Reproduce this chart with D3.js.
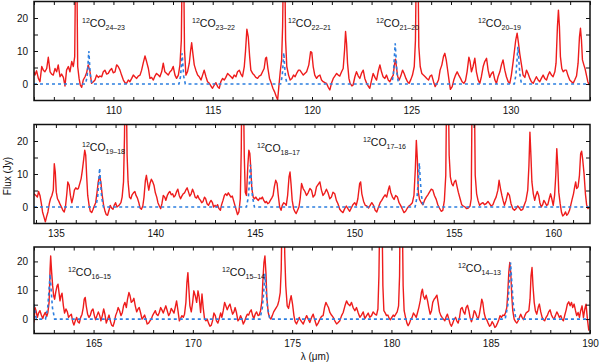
<!DOCTYPE html>
<html>
<head>
<meta charset="utf-8">
<script src="https://cdn.jsdelivr.net/npm/d3@7"></script>
<style>
  body { margin: 0; background: #fff; }
  text { font-family: "Liberation Sans", Arial, sans-serif; fill: #111; }
</style>
</head>
<body>
<script>
let width = 600;
let height = 362;

// observed spectrum, [lambda (um), flux (Jy)]; values above the frame are line peaks that run off the top
const spec1 = [[106.00,3.7],[106.05,2.7],[106.13,4.0],[106.22,1.7],[106.30,0.7],[106.39,5.3],[106.47,4.2],[106.55,3.7],[106.64,4.7],[106.72,8.1],[106.81,3.7],[106.89,3.0],[106.97,2.7],[107.06,4.7],[107.14,3.7],[107.22,5.8],[107.31,2.2],[107.39,3.0],[107.48,2.0],[107.56,-0.6],[107.64,4.2],[107.73,5.3],[107.81,3.7],[107.90,6.8],[107.98,5.3],[108.05,8.3],[108.10,40],[108.15,40],[108.20,5.3],[108.27,1.7],[108.33,-0.3],[108.40,-1.0],[108.48,1.2],[108.57,2.2],[108.65,3.4],[108.73,5.8],[108.82,3.7],[108.90,0.2],[108.99,0.7],[109.07,1.2],[109.15,2.7],[109.24,2.0],[109.32,2.4],[109.41,2.2],[109.49,3.7],[109.57,4.2],[109.66,3.0],[109.74,3.2],[109.83,4.2],[109.91,4.7],[109.99,3.4],[110.08,3.7],[110.16,5.8],[110.24,5.3],[110.33,4.2],[110.41,2.7],[110.50,1.2],[110.58,0.4],[110.66,0.2],[110.75,1.2],[110.83,0.7],[110.92,1.7],[111.00,2.7],[111.08,2.2],[111.17,1.7],[111.25,2.4],[111.34,2.7],[111.42,4.2],[111.50,6.3],[111.59,8.5],[111.67,6.8],[111.76,4.7],[111.84,1.7],[111.92,2.0],[112.01,1.2],[112.09,2.4],[112.17,3.2],[112.26,2.7],[112.34,2.2],[112.43,3.7],[112.51,6.3],[112.59,3.7],[112.68,3.2],[112.76,2.7],[112.85,3.7],[112.93,4.2],[113.01,5.3],[113.10,2.7],[113.18,1.7],[113.27,2.7],[113.35,5.8],[113.42,13.3],[113.47,40],[113.53,40],[113.58,10.3],[113.65,2.7],[113.73,3.7],[113.82,6.3],[113.89,10.3],[113.94,12.5],[114.00,9.3],[114.07,5.8],[114.15,4.2],[114.24,2.7],[114.32,2.2],[114.41,1.2],[114.49,2.7],[114.57,4.2],[114.66,2.2],[114.74,0.7],[114.83,0.2],[114.91,-0.6],[114.99,-1.3],[115.08,-0.3],[115.16,0.4],[115.25,-0.8],[115.33,-1.3],[115.41,0.7],[115.50,1.7],[115.58,1.2],[115.66,2.0],[115.75,3.2],[115.83,2.7],[115.92,2.2],[116.00,1.7],[116.08,2.7],[116.17,2.2],[116.25,3.7],[116.34,4.2],[116.42,3.0],[116.50,2.2],[116.59,5.3],[116.65,9.8],[116.72,16.6],[116.79,14.3],[116.86,8.3],[116.92,4.2],[117.01,3.2],[117.09,2.7],[117.17,2.0],[117.26,1.7],[117.34,2.4],[117.43,2.7],[117.51,3.7],[117.59,4.7],[117.66,7.8],[117.71,8.1],[117.78,4.7],[117.86,1.7],[117.95,0.2],[118.03,-1.3],[118.11,-2.3],[118.20,-3.8],[118.27,-4.8],[118.33,-0.8],[118.40,3.7],[118.47,7.3],[118.52,17.4],[118.57,40],[118.62,40],[118.67,13.3],[118.73,5.3],[118.82,2.7],[118.90,1.2],[118.99,1.7],[119.07,2.7],[119.15,2.2],[119.24,3.4],[119.32,4.2],
  [119.39,4.2],[119.56,2.7],[119.73,3.7],[119.84,5.8],[119.93,9.8],[119.99,9.5],[120.06,5.3],[120.14,2.7],[120.23,1.7],[120.31,2.4],[120.40,2.7],[120.48,1.2],[120.56,0.7],[120.65,0.4],[120.73,0.2],[120.82,-1.0],[120.90,-1.8],[120.98,0.2],[121.07,1.7],[121.15,2.4],[121.24,3.2],[121.32,2.7],[121.40,2.4],[121.49,3.7],[121.57,4.7],[121.64,10.3],[121.69,15.9],[121.74,12.3],[121.79,6.3],[121.86,1.7],[121.92,0.2],[122.01,-0.6],[122.07,-0.3],[122.16,2.2],[122.24,3.7],[122.33,2.4],[122.41,1.7],[122.49,3.2],[122.58,4.2],[122.66,1.7],[122.75,0.2],[122.83,-0.6],[122.91,-1.3],[123.00,1.2],[123.08,3.2],[123.17,2.0],[123.25,1.2],[123.33,3.7],[123.42,5.8],[123.50,3.7],[123.58,2.2],[123.67,1.7],[123.75,2.7],[123.84,1.2],[123.92,0.7],[124.00,1.7],[124.09,2.7],[124.15,5.8],[124.21,7.5],[124.26,4.7],[124.32,2.2],[124.39,1.2],[124.47,2.4],[124.56,4.2],[124.64,3.2],[124.73,1.7],[124.81,0.7],[124.89,0.2],[124.98,1.4],[125.06,2.7],[125.15,5.3],[125.21,13.3],[125.26,40],[125.33,40],[125.38,11.3],[125.45,5.3],[125.53,3.2],[125.61,2.7],[125.70,2.2],[125.78,1.7],[125.87,1.2],[125.95,2.4],[126.03,2.7],[126.12,0.7],[126.20,-0.8],[126.29,0.2],[126.37,1.2],[126.45,4.2],[126.54,5.8],[126.62,8.3],[126.69,9.3],[126.76,7.3],[126.82,4.7],[126.91,0.7],[126.97,-1.6],[127.06,-0.8],[127.14,1.2],[127.23,2.7],[127.31,3.7],[127.39,2.7],[127.48,1.7],[127.56,0.7],[127.65,0.2],[127.73,1.0],[127.81,3.7],[127.90,8.1],[127.96,6.8],[128.03,3.7],[128.11,5.3],[128.20,7.8],[128.28,3.7],[128.37,1.2],[128.45,0.2],[128.53,2.2],[128.62,5.3],[128.70,6.8],[128.79,7.8],[128.87,4.2],[128.95,2.0],[129.04,3.2],[129.12,3.7],[129.21,1.2],[129.29,0.2],[129.37,2.2],[129.46,3.7],[129.54,5.8],[129.62,7.3],[129.71,4.2],[129.79,2.2],[129.88,0.7],[129.96,0.2],[130.04,2.7],[130.13,6.8],[130.20,10.3],[130.26,13.3],[130.33,15.4],[130.40,12.3],[130.46,9.3],[130.55,5.8],[130.63,2.7],[130.72,2.0],[130.80,4.2],[130.88,3.2],[130.97,1.7],[131.05,0.7],[131.14,0.2],[131.22,1.2],[131.30,2.2],[131.39,1.2],[131.47,0.7],[131.55,1.7],[131.64,2.7],[131.72,1.7],[131.81,1.2],[131.89,2.7],[131.97,3.7],[132.06,2.7],[132.14,2.2],[132.23,3.7],[132.29,6.3],[132.36,17.4],[132.41,22.4],[132.46,17.4],[132.51,8.3],[132.58,4.7],[132.65,3.7],[132.73,4.2],[132.81,4.2],[132.90,2.4],[132.98,1.2],[133.07,0.7],[133.15,0.2],[133.23,1.2],[133.32,2.4],[133.40,6.3],[133.47,14.3],[133.52,16.9],[133.57,13.3],[133.62,7.3],[133.69,5.8],[133.75,4.7],[133.82,2.7],[133.89,0.7],[133.96,-0.3]];

const spec2 = [[133.90,4.0],[134.00,3.5],[134.07,3.0],[134.13,4.7],[134.20,3.5],[134.27,1.0],[134.33,-1.5],[134.40,-3.0],[134.47,-4.5],[134.53,-3.0],[134.60,-1.5],[134.67,1.0],[134.73,2.5],[134.80,3.5],[134.87,5.1],[134.92,13.1],[134.97,10.6],[135.02,4.5],[135.08,2.5],[135.15,1.7],[135.22,0.7],[135.28,0.0],[135.35,-1.0],[135.42,-1.5],[135.48,0.0],[135.55,4.0],[135.60,7.6],[135.67,6.6],[135.73,3.5],[135.80,1.3],[135.87,3.0],[135.93,5.1],[136.00,5.8],[136.07,5.4],[136.13,5.6],[136.20,7.1],[136.27,8.6],[136.33,11.1],[136.40,14.6],[136.45,17.2],[136.50,15.7],[136.55,9.1],[136.60,3.5],[136.67,0.5],[136.73,-1.3],[136.80,-1.7],[136.87,-0.7],[136.93,0.3],[137.00,1.3],[137.07,4.5],[137.13,7.6],[137.20,9.6],[137.27,7.1],[137.33,3.5],[137.40,0.5],[137.47,-1.3],[137.53,-2.3],[137.60,-2.5],[137.67,-1.0],[137.73,0.5],[137.80,-0.3],[137.87,-0.7],[137.93,0.5],[138.00,1.3],[138.07,0.0],[138.13,0.3],[138.20,0.7],[138.27,1.3],[138.33,3.0],[138.40,7.6],[138.45,21.7],[138.48,40],[138.53,40],[138.58,15.7],[138.63,7.6],[138.70,3.0],[138.77,2.5],[138.83,3.7],[138.90,4.3],[138.97,4.7],[139.03,3.5],[139.10,2.7],[139.17,1.3],[139.23,-0.3],[139.30,-0.7],[139.37,0.3],[139.43,3.0],[139.50,8.1],[139.55,9.6],[139.60,7.6],[139.67,5.1],[139.73,7.1],[139.80,8.4],[139.87,7.6],[139.93,6.6],[140.00,4.3],[140.07,3.0],[140.13,1.3],[140.20,0.3],[140.27,-0.5],[140.33,1.0],[140.40,3.5],[140.47,3.0],[140.53,2.0],[140.60,3.5],[140.67,4.3],[140.73,4.7],[140.80,3.7],[140.87,4.0],[140.93,3.0],[141.00,3.5],[141.07,4.7],[141.13,5.4],[141.20,3.5],[141.27,2.5],[141.33,3.3],[141.40,4.0],[141.47,4.3],[141.53,5.1],[141.60,5.8],[141.67,4.5],[141.73,3.3],[141.80,4.0],[141.87,5.4],[141.93,4.5],[142.00,3.0],[142.07,2.7],[142.13,3.5],[142.20,2.5],[142.27,2.0],[142.33,1.3],[142.40,1.7],[142.47,3.0],[142.53,2.5],[142.60,1.0],[142.67,0.5],[142.73,1.3],[142.80,2.0],[142.87,1.3],[142.93,0.0],[143.00,0.5],[143.07,0.0],[143.13,0.7],[143.20,-0.5],[143.27,-1.0],[143.33,0.7],[143.40,2.0],[143.47,3.5],[143.53,4.0],[143.60,3.5],[143.67,4.3],[143.73,3.7],[143.80,3.0],[143.87,3.3],[143.93,2.0],[144.00,0.5],[144.07,-1.0],[144.13,-2.3],[144.20,-1.5],[144.27,2.5],[144.32,17.7],[144.35,40],[144.42,40],[144.47,15.7],[144.52,4.5],[144.58,3.5],[144.65,12.6],[144.70,17.2],[144.75,16.2],[144.80,11.6],[144.85,5.6],[144.92,3.0],[144.98,2.5],[145.05,3.0],[145.12,2.3],[145.18,2.0],[145.25,2.7],[145.32,2.5],[145.38,3.0],[145.45,2.0],[145.52,1.3],[145.58,1.7],[145.65,1.0],[145.72,1.3],[145.78,2.0],[145.85,2.7],[145.92,3.5],[145.98,6.1],[146.05,8.1],[146.12,7.1],[146.18,3.5],[146.25,0.0],[146.32,-1.0],[146.38,0.5],[146.45,1.3],[146.52,1.0],[146.58,0.5],[146.65,3.5],[146.72,9.1],[146.77,10.6],[146.82,7.1],[146.88,2.0],[146.95,-0.5],[147.02,-1.5],[147.08,-2.0],[147.15,-1.0],[147.22,0.0],[147.28,2.5],
  [147.35,7.1],[147.43,5.6],[147.52,4.7],[147.60,3.5],[147.68,4.3],[147.77,5.6],[147.85,5.1],[147.93,3.0],[148.02,3.7],[148.10,6.1],[148.18,6.8],[148.27,7.6],[148.35,5.1],[148.43,3.5],[148.52,4.3],[148.60,5.4],[148.68,4.3],[148.77,2.5],[148.85,3.0],[148.93,4.5],[149.02,4.0],[149.10,2.0],[149.18,1.0],[149.27,-0.7],[149.35,-1.3],[149.43,-1.7],[149.52,-0.5],[149.60,0.3],[149.68,-0.5],[149.77,-1.3],[149.85,-0.3],[149.93,0.7],[150.02,1.3],[150.10,0.5],[150.18,2.5],[150.27,7.1],[150.32,7.6],[150.38,4.0],[150.47,1.7],[150.55,0.5],[150.63,0.3],[150.72,-0.3],[150.80,0.5],[150.88,1.3],[150.97,0.5],[151.05,-1.0],[151.13,-1.5],[151.22,0.0],[151.30,1.3],[151.38,2.0],[151.47,3.0],[151.55,3.7],[151.63,3.0],[151.72,5.4],[151.77,6.4],[151.83,4.5],[151.92,3.0],[152.00,2.3],[152.08,3.5],[152.17,3.0],[152.25,1.3],[152.33,0.5],[152.42,-0.7],[152.50,-1.7],[152.58,-1.3],[152.67,-0.3],[152.75,0.3],[152.83,0.7],[152.92,1.3],[153.00,3.5],[153.07,11.6],[153.12,20.2],[153.17,14.6],[153.22,4.5],[153.28,2.3],[153.37,1.3],[153.45,0.7],[153.53,2.0],[153.62,3.0],[153.70,3.7],[153.78,4.5],[153.87,5.4],[153.95,5.1],[154.03,3.5],[154.12,2.3],[154.20,0.7],[154.28,-0.3],[154.37,-1.3],[154.45,-1.0],[154.53,2.0],[154.60,9.6],[154.65,40],[154.72,40],[154.77,15.7],[154.83,9.1],[154.90,7.1],[154.97,6.4],[155.03,7.6],[155.10,8.1],[155.17,6.1],[155.23,4.5],[155.32,2.5],[155.40,0.7],[155.48,0.3],[155.57,0.0],[155.65,-0.5],[155.73,-0.3],[155.82,0.3],[155.88,2.5],[155.93,40],[156.03,40],[156.08,9.6],[156.15,4.0],[156.22,2.0],[156.30,0.5],[156.38,1.0],[156.47,1.3],[156.55,0.7],[156.63,1.0],[156.72,1.7],[156.80,1.0],[156.88,0.3],[156.97,0.7],[157.05,2.0],[157.13,3.0],[157.22,5.1],[157.28,8.1],[157.35,5.6],[157.42,3.5],[157.48,2.0],[157.55,0.5],[157.63,2.0],[157.72,4.3],[157.80,3.5],[157.88,1.0],[157.97,-0.5],[158.05,-1.0],[158.13,-0.5],[158.22,0.3],[158.30,-0.3],[158.38,-1.0],[158.47,-0.7],[158.55,0.7],[158.63,2.0],[158.72,5.1],[158.78,12.6],[158.83,22.7],[158.88,15.7],[158.93,7.6],[159.00,4.0],[159.07,2.0],[159.13,3.5],[159.20,4.7],[159.27,3.5],[159.33,1.3],[159.40,0.0],[159.47,0.7],[159.53,2.0],[159.60,1.3],[159.67,0.5],[159.73,0.7],[159.80,2.5],[159.87,4.0],[159.93,2.5],[160.00,0.5],[160.07,3.5],[160.13,9.6],[160.18,17.7],[160.23,12.6],[160.28,4.5],[160.35,1.0],[160.42,-1.7],[160.48,-2.7],[160.55,-2.3],[160.62,-1.5],[160.68,-2.5],[160.75,-2.0],[160.82,-1.0],[160.88,0.5],[160.95,2.3],[161.02,4.0],[161.08,6.1],[161.13,7.6],[161.18,5.6],[161.25,6.1],[161.32,9.6],[161.38,16.2],[161.43,16.9],[161.48,14.6],[161.55,10.1],[161.62,4.0],[161.68,0.7],[161.75,-0.5],[161.82,0.0]];

const spec3 = [[162.00,-1.2],[162.05,4.0],[162.10,2.9],[162.17,0.6],[162.23,2.1],[162.30,2.9],[162.37,1.4],[162.44,0.2],[162.50,1.4],[162.57,2.3],[162.64,0.9],[162.70,2.3],[162.76,5.8],[162.81,17.3],[162.84,21.9],[162.89,16.1],[162.94,11.5],[162.99,8.1],[163.04,6.9],[163.09,9.2],[163.16,11.5],[163.21,12.1],[163.26,9.2],[163.31,6.3],[163.36,8.1],[163.41,9.0],[163.48,4.6],[163.54,2.1],[163.61,3.5],[163.68,2.5],[163.74,0.6],[163.81,1.2],[163.88,1.7],[163.95,-0.9],[164.01,-2.1],[164.08,-0.6],[164.15,0.6],[164.21,-0.9],[164.28,-1.4],[164.35,0.6],[164.42,1.7],[164.48,4.0],[164.53,6.9],[164.58,7.5],[164.63,4.6],[164.70,1.7],[164.77,0.6],[164.84,1.4],[164.90,2.9],[164.97,3.5],[165.04,1.2],[165.10,-0.2],[165.17,1.2],[165.24,2.5],[165.31,1.2],[165.37,-0.6],[165.44,1.2],[165.51,3.5],[165.57,1.7],[165.64,-1.4],[165.71,0.0],[165.78,1.4],[165.84,-0.6],[165.91,-2.1],[165.98,-2.5],[166.04,-1.2],[166.11,1.2],[166.18,2.5],[166.24,4.0],[166.31,2.9],[166.38,1.2],[166.45,2.3],[166.51,4.6],[166.58,5.8],[166.65,4.0],[166.71,6.9],[166.78,9.2],[166.83,8.3],[166.90,5.8],[166.97,6.3],[167.03,7.2],[167.10,4.6],[167.17,2.5],[167.24,3.5],[167.30,4.0],[167.37,2.1],[167.44,0.0],[167.50,0.6],[167.57,1.4],[167.64,-0.2],[167.70,-1.7],[167.77,-1.4],[167.84,-0.6],[167.91,0.0],[167.97,1.2],[168.04,2.1],[168.11,2.9],[168.17,1.7],[168.24,1.2],[168.31,2.3],[168.38,4.0],[168.44,3.2],[168.51,2.1],[168.58,3.5],[168.64,4.6],[168.71,2.9],[168.78,1.2],[168.85,2.1],[168.91,3.7],[168.98,2.9],[169.05,2.1],[169.11,4.0],[169.18,6.3],[169.25,2.9],[169.32,-0.6],[169.38,0.2],[169.45,1.2],[169.52,0.6],[169.58,1.7],[169.65,5.8],[169.70,12.7],[169.75,16.1],[169.80,10.4],[169.85,4.6],[169.92,2.5],[169.99,5.8],[170.05,9.8],[170.12,8.1],[170.19,5.8],[170.26,9.8],[170.32,7.5],[170.39,2.3],[170.46,8.7],[170.52,4.0],[170.59,0.0],[170.66,-0.6],[170.72,0.0],[170.79,-1.4],[170.86,-2.5],[170.93,-2.1],[170.99,-0.6],[171.06,2.1],[171.13,1.2],[171.19,-0.6],[171.26,-1.4],[171.33,0.2],[171.40,2.1],[171.46,0.6],[171.53,2.9],[171.60,5.8],[171.66,4.6],[171.73,3.2],[171.80,4.4],[171.87,5.2],[171.93,3.5],[172.00,1.7],[172.07,2.5],[172.13,4.0],[172.20,2.1],[172.27,-0.6],[172.34,0.0],[172.40,1.2],[172.47,0.0],[172.54,-1.7],[172.60,-0.9],[172.67,0.6],[172.74,1.7],[172.81,1.4],[172.87,2.5],[172.94,3.2],[173.01,1.2],[173.07,0.2],[173.14,1.7],[173.21,2.5],[173.28,1.2],[173.34,1.4],[173.41,2.9],[173.48,6.3],[173.53,13.8],[173.58,19.6],[173.63,21.9],[173.68,16.1],[173.73,6.9],[173.80,2.1],[173.86,0.6],[173.93,0.0],[174.00,1.2],[174.07,2.5],[174.13,3.2],[174.20,4.0],[174.27,4.8],[174.33,6.3],[174.40,9.2],[174.45,17.3],[174.50,40],[174.58,40],[174.63,21.9],[174.68,11.5],[174.75,4.6],[174.82,3.7],[174.89,6.3],[174.95,8.1],[175.02,5.2],[175.09,1.2],[175.15,-0.9],[175.22,-1.7],[175.29,-0.6],[175.36,0.6],
  [175.39,0.0],[175.47,-0.9],[175.56,-1.7],[175.64,-0.2],[175.73,1.2],[175.81,0.0],[175.89,-1.2],[175.98,0.6],[176.06,1.7],[176.15,-0.6],[176.23,-2.3],[176.31,-1.4],[176.40,0.0],[176.48,0.9],[176.56,1.2],[176.63,4.0],[176.70,5.8],[176.77,4.8],[176.83,4.0],[176.90,2.3],[176.98,1.4],[177.07,0.6],[177.15,-0.6],[177.24,-1.7],[177.32,-1.2],[177.40,-0.6],[177.49,1.2],[177.57,2.3],[177.66,4.6],[177.74,6.3],[177.82,5.2],[177.91,4.6],[177.99,5.8],[178.07,4.0],[178.16,2.9],[178.24,4.0],[178.33,2.1],[178.41,0.6],[178.49,1.4],[178.58,2.5],[178.66,0.2],[178.75,1.2],[178.83,2.1],[178.91,0.6],[179.00,1.2],[179.08,2.5],[179.17,1.7],[179.25,1.4],[179.32,3.5],[179.37,15.0],[179.42,40],[179.52,40],[179.57,11.5],[179.62,2.9],[179.69,2.1],[179.75,1.2],[179.82,1.4],[179.89,0.2],[179.95,-0.2],[180.02,0.6],[180.09,1.4],[180.15,0.9],[180.22,1.7],[180.29,2.5],[180.36,4.6],[180.41,15.0],[180.44,40],[180.54,40],[180.59,11.5],[180.64,2.9],[180.71,0.6],[180.78,-1.4],[180.84,-2.3],[180.91,-1.4],[180.98,0.0],[181.04,0.6],[181.11,2.1],[181.18,1.4],[181.25,0.6],[181.31,2.1],[181.38,4.0],[181.45,6.3],[181.51,9.2],[181.56,10.4],[181.61,8.1],[181.68,6.9],[181.75,8.3],[181.82,6.3],[181.88,4.0],[181.95,1.7],[182.02,2.9],[182.08,5.8],[182.15,6.9],[182.22,7.5],[182.29,8.3],[182.35,5.8],[182.42,2.5],[182.49,1.2],[182.55,0.6],[182.62,0.0],[182.69,-0.6],[182.76,0.9],[182.82,1.7],[182.89,0.0],[182.96,-1.7],[183.02,-2.5],[183.09,-1.4],[183.16,0.0],[183.23,0.6],[183.29,-0.6],[183.36,-1.4],[183.43,0.6],[183.49,3.5],[183.56,4.0],[183.63,2.5],[183.70,1.7],[183.76,4.0],[183.83,4.8],[183.90,2.9],[183.96,0.6],[184.03,-0.9],[184.10,0.6],[184.17,2.9],[184.23,2.3],[184.30,0.9],[184.37,0.0],[184.43,1.7],[184.50,4.6],[184.55,6.9],[184.60,5.8],[184.67,2.1],[184.74,0.2],[184.80,-0.2],[184.87,-1.4],[184.94,-2.5],[185.00,-2.1],[185.07,-0.9],[185.14,-1.7],[185.21,-2.9],[185.27,-2.5],[185.34,-1.4],[185.41,-0.2],[185.47,1.2],[185.54,0.6],[185.61,1.4],[185.68,1.2],[185.74,2.1],[185.81,4.0],[185.86,9.2],[185.91,16.1],[185.96,19.6],[186.01,16.1],[186.06,8.1],[186.11,2.9],[186.18,0.0],[186.25,-0.9],[186.31,-1.4],[186.38,-0.6],[186.45,0.6],[186.51,1.7],[186.58,0.6],[186.65,-0.2],[186.72,1.2],[186.78,2.1],[186.85,2.5],[186.92,2.9],[186.98,6.9],[187.03,15.0],[187.08,17.9],[187.13,11.5],[187.19,5.8],[187.25,2.9],[187.32,1.7],[187.39,4.0],[187.45,5.2],[187.52,2.5],[187.59,0.6],[187.65,-0.2],[187.72,-0.6],[187.79,0.6],[187.86,1.4],[187.92,2.5],[187.99,3.2],[188.06,1.4],[188.12,0.6],[188.19,0.0],[188.26,1.2],[188.33,2.5],[188.39,1.7],[188.46,0.6],[188.53,1.2],[188.59,0.0],[188.66,-0.6],[188.73,1.4],[188.80,3.2],[188.86,5.2],[188.93,6.0],[189.00,4.6],[189.07,5.8],[189.13,4.0],[189.20,5.2],[189.27,2.9],[189.33,1.2],[189.40,2.3],[189.47,0.6],[189.53,2.9],[189.60,4.6],[189.67,0.6],[189.74,3.5],[189.80,5.2],[189.87,0.0],[189.94,-4.0]];

// CO line model (blue dashed), [lambda, flux]
const model1 = [[106.0,0],[108.60,0],[108.68,2.5],[108.72,6.0],[108.76,10.0],[108.80,6.0],[108.84,2.5],[108.92,0],
  [113.30,0],[113.38,2.3],[113.42,5.6],[113.46,9.3],[113.50,5.6],[113.54,2.3],[113.62,0],
  [118.42,0],[118.50,2.4],[118.54,5.7],[118.58,9.5],[118.62,5.7],[118.66,2.4],[118.74,0],
  [124.02,0],[124.10,3.1],[124.14,7.4],[124.19,12.3],[124.24,7.4],[124.28,3.1],[124.36,0],
  [130.19,0],[130.27,2.8],[130.32,6.8],[130.37,11.3],[130.42,6.8],[130.47,2.8],[130.55,0],[134.0,0]];
const model2 = [[133.9,0],[137.01,0],[137.10,3.0],[137.15,7.1],[137.20,11.8],[137.25,7.1],[137.30,3.0],[137.39,0],
  [144.58,0],[144.68,3.2],[144.73,7.7],[144.78,12.8],[144.83,7.7],[144.88,3.2],[144.98,0],
  [153.06,0],[153.16,3.3],[153.22,8.0],[153.27,13.3],[153.32,8.0],[153.38,3.3],[153.48,0],[161.9,0]];
const model3 = [[162.0,5.2],[162.06,2.0],[162.12,0],[162.58,0],[162.69,3.9],[162.75,9.4],[162.81,15.6],[162.87,9.4],[162.93,3.9],[163.04,0],
  [173.38,0],[173.50,4.0],[173.57,9.5],[173.63,15.8],[173.69,9.5],[173.76,4.0],[173.88,0],
  [185.73,0],[185.86,4.9],[185.93,11.8],[186.00,19.6],[186.07,11.8],[186.14,4.9],[186.27,0],[190.0,0]];

// line identifications
const labels1 = [["24","23"],["23","22"],["22","21"],["21","20"],["20","19"]];
const labels2 = [["19","18"],["18","17"],["17","16"]];
const labels3 = [["16","15"],["15","14"],["14","13"]];

const yTickValues = [0, 5, 10, 15, 20];
const yLabelValues = [0, 10, 20];

const panels = [
  { domain: [106, 134], top: 1.5, bottom: 100.5, spec: spec1, model: model1, labels: labels1,
    labelPos: [[82, 25.5], [192, 25.5], [288, 25.5], [376, 25.5], [478, 25.5]] },
  { domain: [133.9, 161.85], top: 124.5, bottom: 223.5, spec: spec2, model: model2, labels: labels2,
    labelPos: [[82, 26.5], [257, 27], [363, 21.5]] },
  { domain: [162, 190], top: 247, bottom: 333.5, spec: spec3, model: model3, labels: labels3,
    labelPos: [[68, 29], [222, 29], [458, 25]] }
];

const left = 34, right = 590;

const svg = d3.select('body')
  .append('svg')
  .attr('width', width)
  .attr('height', height);

panels.forEach(function(p, i) {
  let x = d3.scaleLinear().domain(p.domain).range([left, right]);
  let y = d3.scaleLinear().domain([-5, 25]).range([p.bottom, p.top]);

  let g = svg.append('g');

  g.append('clipPath').attr('id', 'clip' + i)
    .append('rect')
      .attr('x', left).attr('y', p.top)
      .attr('width', right - left).attr('height', p.bottom - p.top);

  let line = d3.line()
    .x(d => x(d[0]))
    .y(d => y(d[1]));

  let plot = g.append('g').attr('clip-path', 'url(#clip' + i + ')');

  plot.append('path').datum(p.spec)
    .attr('d', line)
    .attr('fill', 'none')
    .attr('stroke', '#ee1c1c')
    .attr('stroke-width', 1.4)
    .attr('stroke-linejoin', 'round');

  plot.append('path').datum(p.model)
    .attr('d', line)
    .attr('fill', 'none')
    .attr('stroke', '#2d7fe0')
    .attr('stroke-width', 1.6)
    .attr('stroke-dasharray', '3,3');

  // ticks point inward on all four sides
  let xTicks = d3.range(Math.ceil(p.domain[0]), Math.floor(p.domain[1]) + 1);

  let xAxis = g.append('g')
    .attr('transform', 'translate(0,' + p.bottom + ')')
    .call(d3.axisBottom(x).tickValues(xTicks).tickSize(-3.5).tickPadding(6)
      .tickFormat(d => d % 5 === 0 ? d : ''));
  g.append('g')
    .attr('transform', 'translate(0,' + p.top + ')')
    .call(d3.axisTop(x).tickValues(xTicks).tickSize(-3.5).tickFormat(''));
  g.append('g')
    .attr('transform', 'translate(' + left + ',0)')
    .call(d3.axisLeft(y).tickValues(yTickValues).tickSize(-4).tickPadding(6)
      .tickFormat(d => yLabelValues.includes(d) ? d : ''));
  g.append('g')
    .attr('transform', 'translate(' + right + ',0)')
    .call(d3.axisRight(y).tickValues(yTickValues).tickSize(-4).tickFormat(''));

  g.selectAll('.domain').remove();
  g.selectAll('.tick line').attr('stroke', '#111').attr('stroke-width', 1);
  g.selectAll('.tick text').style('font-size', '10px')
    .style('font-family', '"Liberation Sans", Arial, sans-serif').attr('fill', '#111');

  g.append('rect')
    .attr('x', left).attr('y', p.top)
    .attr('width', right - left).attr('height', p.bottom - p.top)
    .attr('fill', 'none')
    .attr('stroke', '#111')
    .attr('stroke-width', 1.5);

  p.labels.forEach(function(lab, j) {
    let t = g.append('text')
      .attr('x', p.labelPos[j][0])
      .attr('y', p.top + p.labelPos[j][1])
      .style('font-size', '10.5px');
    t.append('tspan').attr('dy', '-4').style('font-size', '7px').text('12');
    t.append('tspan').attr('dy', '4').text('CO');
    t.append('tspan').attr('dy', '3').style('font-size', '7px').text(lab[0] + '\u2013' + lab[1]);
  });
});

svg.append('text')
  .attr('transform', 'translate(11,176) rotate(-90)')
  .attr('text-anchor', 'middle')
  .style('font-size', '10px')
  .text('Flux (Jy)');

svg.append('text')
  .attr('x', 315)
  .attr('y', 360)
  .attr('text-anchor', 'middle')
  .style('font-size', '10px')
  .text('\u03bb (\u03bcm)');
</script>
</body>
</html>
